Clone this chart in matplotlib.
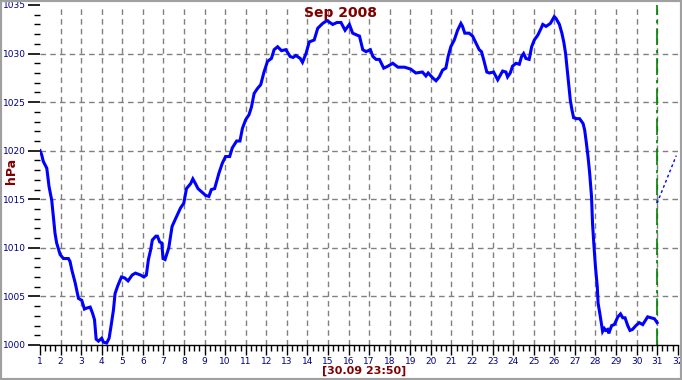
import matplotlib
matplotlib.use("Agg")
import matplotlib.pyplot as plt
from matplotlib.patches import Rectangle
from matplotlib.ticker import MultipleLocator

# Luftdruck September 2008 (Tag des Monats, hPa)
days = [1.00, 1.08, 1.16, 1.33, 1.44, 1.57, 1.65, 1.73, 1.81, 1.98,
        2.14, 2.38, 2.46, 2.55, 2.71, 2.87, 3.03, 3.16, 3.27, 3.44,
        3.55, 3.65, 3.73, 3.84, 4.00, 4.08, 4.24, 4.36, 4.45, 4.57,
        4.65, 4.78, 4.96, 5.12, 5.28, 5.48, 5.64, 5.89, 6.05, 6.17,
        6.27, 6.38, 6.46, 6.63, 6.71, 6.82, 6.92, 6.98, 7.08, 7.26,
        7.42, 7.59, 7.83, 7.99, 8.12, 8.32, 8.43, 8.56, 8.68, 8.89,
        9.05, 9.21, 9.33, 9.49, 9.70, 9.86, 10.02, 10.22, 10.35, 10.56,
        10.72, 10.84, 11.00, 11.16, 11.28, 11.41, 11.57, 11.73, 11.89, 12.06,
        12.25, 12.38, 12.55, 12.74, 12.95, 13.16, 13.30, 13.44, 13.65, 13.76,
        13.93, 14.09, 14.33, 14.50, 14.74, 14.95, 15.23, 15.44, 15.63, 15.83,
        16.04, 16.20, 16.41, 16.53, 16.69, 16.85, 17.06, 17.18, 17.34, 17.50,
        17.71, 17.91, 18.15, 18.40, 18.72, 19.02, 19.27, 19.59, 19.76, 19.87,
        20.09, 20.25, 20.41, 20.57, 20.73, 20.84, 20.97, 21.14, 21.30, 21.46,
        21.54, 21.65, 21.86, 22.03, 22.19, 22.35, 22.46, 22.59, 22.72, 22.84,
        23.05, 23.25, 23.38, 23.49, 23.65, 23.73, 23.86, 23.97, 24.14, 24.30,
        24.41, 24.51, 24.62, 24.78, 24.90, 25.03, 25.20, 25.36, 25.44, 25.60,
        25.81, 26.00, 26.09, 26.25, 26.37, 26.47, 26.55, 26.63, 26.70, 26.78,
        26.86, 26.94, 27.07, 27.23, 27.40, 27.48, 27.56, 27.64, 27.72, 27.81,
        27.86, 27.92, 28.00, 28.09, 28.13, 28.21, 28.30, 28.35, 28.43, 28.50,
        28.59, 28.65, 28.79, 28.92, 29.09, 29.22, 29.33, 29.44, 29.57, 29.68,
        29.80, 29.97, 30.13, 30.30, 30.42, 30.54, 30.71, 30.87, 31.00]
hpa = [1020.0, 1019.6, 1018.9, 1018.2, 1016.3, 1014.9, 1013.2, 1011.5, 1010.5, 1009.3,
       1008.9, 1008.9, 1008.6, 1007.7, 1006.4, 1004.8, 1004.6, 1003.7, 1003.8, 1003.9,
       1003.3, 1002.6, 1000.6, 1000.4, 1000.7, 1000.3, 1000.2, 1000.7, 1001.9, 1003.6,
       1005.3, 1006.1, 1007.0, 1006.9, 1006.6, 1007.2, 1007.4, 1007.2, 1007.0, 1007.2,
       1008.8, 1009.8, 1010.8, 1011.2, 1011.2, 1010.6, 1010.5, 1008.9, 1008.8, 1010.0,
       1012.2, 1013.0, 1014.1, 1014.6, 1016.1, 1016.6, 1017.1, 1016.6, 1016.1, 1015.7,
       1015.4, 1015.3, 1016.0, 1016.1, 1017.7, 1018.7, 1019.4, 1019.4, 1020.3, 1021.0,
       1021.0, 1022.3, 1023.2, 1023.7, 1024.5, 1025.9, 1026.4, 1026.8, 1028.1, 1029.2,
       1029.5, 1030.4, 1030.7, 1030.3, 1030.4, 1029.7, 1029.6, 1029.8, 1029.5, 1029.1,
       1030.0, 1031.2, 1031.4, 1032.6, 1033.1, 1033.4, 1033.0, 1033.2, 1033.2, 1032.4,
       1033.0, 1032.1, 1031.9, 1031.8, 1030.4, 1030.2, 1030.4, 1029.7, 1029.4, 1029.4,
       1028.5, 1028.7, 1029.0, 1028.6, 1028.6, 1028.4, 1028.0, 1028.1, 1027.7, 1028.0,
       1027.5, 1027.2, 1027.6, 1028.3, 1028.5, 1029.7, 1030.7, 1031.4, 1032.4, 1033.1,
       1032.8, 1032.1, 1032.1, 1031.8, 1031.1, 1030.4, 1030.2, 1029.2, 1028.1, 1028.0,
       1028.1, 1027.3, 1027.8, 1028.2, 1028.1, 1027.6, 1028.0, 1028.7, 1029.0, 1028.9,
       1029.7, 1030.0, 1029.5, 1029.4, 1030.7, 1031.4, 1031.9, 1032.6, 1033.0, 1032.8,
       1033.1, 1033.8, 1033.6, 1033.0, 1032.1, 1031.1, 1030.0, 1028.3, 1026.9, 1025.2,
       1024.2, 1023.4, 1023.3, 1023.3, 1022.8, 1022.1, 1020.8, 1019.4, 1017.7, 1015.3,
       1012.5, 1010.5, 1008.1, 1006.0, 1004.3, 1003.3, 1002.1, 1001.4, 1001.7, 1001.5,
       1001.6, 1001.2, 1002.0, 1002.1, 1002.9, 1003.2, 1002.8, 1002.8, 1002.0, 1001.5,
       1001.6, 1002.0, 1002.3, 1002.1, 1002.5, 1002.9, 1002.8, 1002.7, 1002.3]

# Tendenz (gepunktet) nach dem letzten Messwert
trend_days = [31.0, 31.93]
trend_hpa = [1014.6, 1019.5]

now_day = 31
x_ticks = list(range(1, 33))
y_ticks = [1000, 1005, 1010, 1015, 1020, 1025, 1030, 1035]
title = "Sep 2008"
stamp = "[30.09 23:50]"

navy = "#000080"
darkred = "#800000"
gridcol = "#808080"

fig = plt.figure(figsize=(6.82, 3.80), dpi=100)
ax = fig.add_axes([40 / 682, 35 / 380, 637.7 / 682, 340 / 380])

# Gitter
for d in x_ticks[1:-1]:
    ax.axvline(d, color=gridcol, lw=1.0, ls=(0, (4, 3)), zorder=1)
for p in y_ticks[1:-1]:
    ax.axhline(p, color=gridcol, lw=1.0, ls=(0, (4, 3)), zorder=1)

ax.axvline(now_day, color="#008000", lw=1.2, ls=(0, (10, 3, 2, 3)), zorder=2)
ax.plot(days, hpa, color="#0000FF", lw=2.2, solid_joinstyle="miter", zorder=3)
ax.plot(trend_days, trend_hpa, color="#0000FF", lw=1.0, ls=(0, (2, 2)), zorder=3)

ax.set_xlim(1, 32)
ax.set_ylim(1000, 1035)

for s in ["top", "right", "left"]:
    ax.spines[s].set_visible(False)
ax.spines["bottom"].set_color("black")
ax.spines["bottom"].set_linewidth(1.0)

ax.set_xticks(x_ticks)
ax.xaxis.set_minor_locator(MultipleLocator(0.25))
ax.set_yticks(y_ticks)
ax.yaxis.set_minor_locator(MultipleLocator(1))
ax.tick_params(axis="x", which="major", direction="out", length=7, width=1,
               labelsize=6.5, labelcolor=navy, pad=1.5)
ax.tick_params(axis="x", which="minor", direction="out", length=4, width=1)
ax.tick_params(axis="y", which="major", direction="out", length=9, width=1.2,
               labelsize=6.5, labelcolor=navy, pad=1)
ax.tick_params(axis="y", which="minor", direction="out", length=4, width=1)

fig.text(341 / 682, 1 - 13 / 380, title, color=darkred, fontsize=10,
         fontweight="bold", ha="center", va="center")
fig.text(12 / 682, 1 - 171 / 380, "hPa", color=darkred, fontsize=9,
         fontweight="bold", ha="center", va="center", rotation=90)
fig.text(364 / 682, 1 - 371 / 380, stamp, color=darkred, fontsize=8,
         fontweight="bold", ha="center", va="center")

fig.patches.append(Rectangle((0, 0), 1, 1, transform=fig.transFigure,
                             fill=False, edgecolor="#a0a0a0", lw=3))

fig.savefig("out.png", dpi=100)
